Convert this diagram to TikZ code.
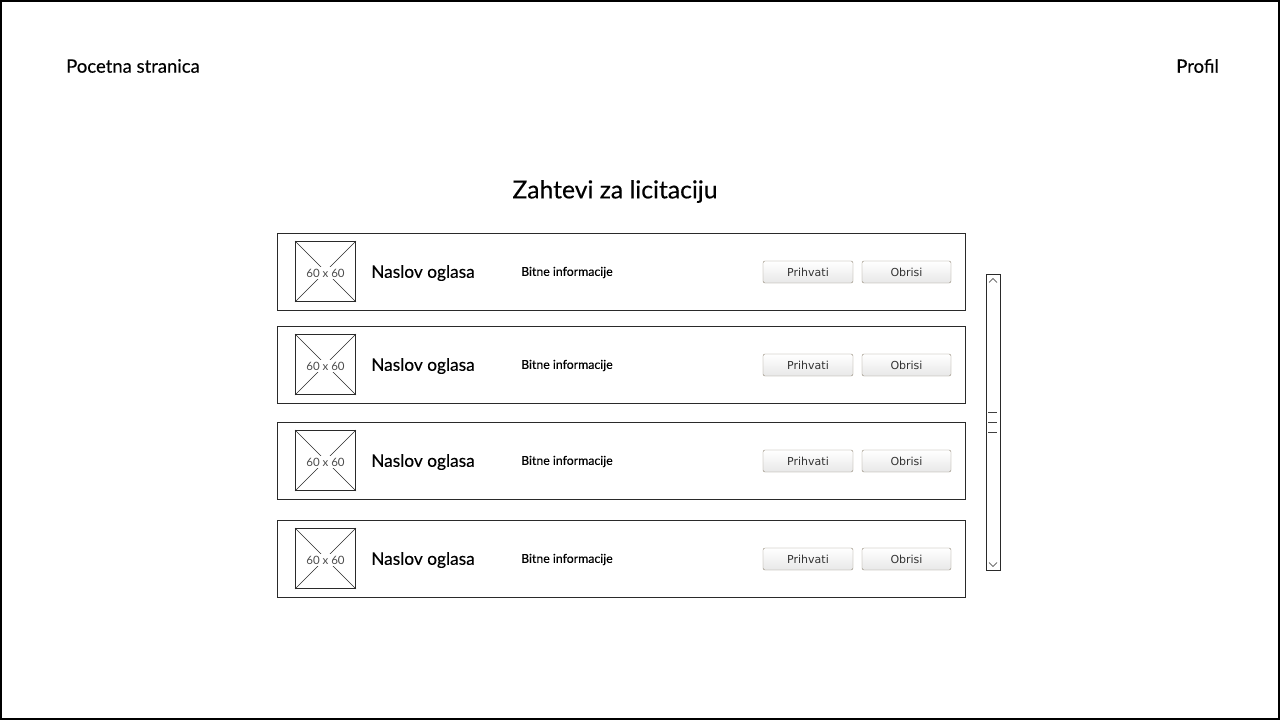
\documentclass[tikz,border=0pt]{standalone}
\usepackage{fontspec}
\setmainfont{Lato}[FakeBold=0.3]
\newfontfamily\thinfont{Lato}
\newfontfamily\btnfont{DejaVu Sans}
\usetikzlibrary{positioning}

\definecolor{btnline}{HTML}{8F8574}
\definecolor{btnfill}{HTML}{E8E8E8}
\definecolor{frameline}{HTML}{2A2A2A}

\begin{document}
\begin{tikzpicture}[
    x=1pt, y=-1pt,
    card/.style={
        rectangle,
        draw=frameline,
        line width=1pt,
        minimum width=688pt,
        minimum height=77pt
    },
    thumb/.style={
        rectangle,
        draw=frameline,
        line width=1pt,
        minimum width=60pt,
        minimum height=60pt
    },
    button/.style={
        rectangle,
        rounded corners=2pt,
        draw=btnline,
        top color=white,
        bottom color=btnfill,
        minimum width=90pt,
        minimum height=22pt,
        font=\btnfont\fontsize{11}{13}\selectfont,
        text=black!80,
        inner sep=0pt
    },
    label/.style={font=\fontsize{18.5}{22}\selectfont, inner sep=0pt}
]

\useasboundingbox (0,0) rectangle (1280,720);
\draw[line width=2pt] (1,1) rectangle (1279,719);

\node[label, anchor=west] (home) at (66,66) {Pocetna stranica};
\node[label, anchor=east] (profile) at (1219,66) {Profil};
\node[font=\fontsize{24.7}{29}\selectfont, inner sep=0pt] (title) at (615,191.5) {Zahtevi za licitaciju};

% request rows
\foreach \i/\y in {1/271.5, 2/364.5, 3/460.5, 4/558.5} {
    \node[card] (row\i) at (621,\y) {};
    \node[thumb] (img\i) at (325.5,\y) {};
    \draw[frameline] (img\i.north west) -- (img\i.south east);
    \draw[frameline] (img\i.north east) -- (img\i.south west);
    \node[fill=white, inner sep=1.5pt, text=black!70, font=\thinfont\fontsize{11.5}{13}\selectfont] at (325.5,\y+1.5) {60 x 60};
    \node[label, anchor=west, font=\fontsize{17.3}{20}\selectfont] (name\i) at (371,\y+1.5) {Naslov oglasa};
    \node[anchor=west, inner sep=0pt, font=\fontsize{12.3}{14}\selectfont] (info\i) at (521,\y+1) {Bitne informacije};
    \node[button] (accept\i) at (808,\y+0.5) {Prihvati};
    \node[button, minimum width=89pt] (delete\i) at (906.5,\y+0.5) {Obrisi};
}

% scrollbar
\node[rectangle, draw=frameline, line width=1pt, minimum width=14pt, minimum height=296pt, inner sep=0pt] (scroll) at (993,422) {};
\draw[frameline] ([shift={(-4pt,-9pt)}]scroll.north) -- ([shift={(0pt,-5pt)}]scroll.north) -- ([shift={(4pt,-9pt)}]scroll.north);
\draw[frameline] ([shift={(-4pt,8pt)}]scroll.south) -- ([shift={(0pt,4pt)}]scroll.south) -- ([shift={(4pt,8pt)}]scroll.south);
\draw[darkgray] (988,412) -- (997,412);
\draw[darkgray] (988,422) -- (997,422);
\draw[darkgray] (988,432) -- (997,432);

\end{tikzpicture}
\end{document}
